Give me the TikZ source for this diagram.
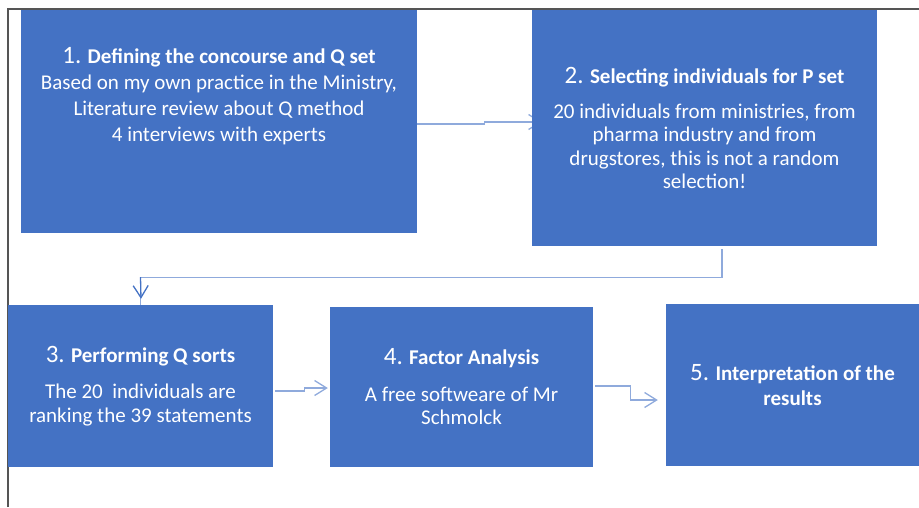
\documentclass[tikz,border=0pt]{standalone}
\usepackage{fontspec}
\setmainfont{Carlito}
\usetikzlibrary{arrows.meta,positioning}
\definecolor{qblue}{RGB}{68,114,196}
\definecolor{qline}{RGB}{143,170,220}
\definecolor{qframe}{RGB}{85,85,85}
\pgfdeclarelayer{bg}
\pgfsetlayers{bg,main}
\newcommand{\stepno}[1]{{\fontsize{25}{30}\selectfont #1}}
\tikzset{
  stepbox/.style = {rectangle, fill=qblue, inner sep=0pt, text=white,
    align=center, font=\fontsize{21}{23.5}\selectfont},% etape du protocole
  steptext/.style = {inner sep=0pt, text=white, align=center,
    font=\fontsize{21}{26}\selectfont},% texte libre dans une etape
  conn/.style = {draw=qline, line width=1.3pt,
    -{Straight Barb[length=12pt,width=15pt]}},% fleche claire
  conn_d/.style = {conn, draw=qblue}% fleche foncee
}
\begin{document}
\begin{tikzpicture}[x=1pt,y=-1pt]
\useasboundingbox (0,0) rectangle (919,507);
\draw[qframe, line width=1.6pt] (8,507) -- (8,9) -- (919,9);
% premiere ligne
\node [stepbox, minimum width=396pt, minimum height=223pt] (b1) at (219,121.5) {};
\node [steptext, below=37pt of b1.north] (t1)
  {\stepno{1.} \textbf{Defining the concourse and Q set}\\
   Based on my own practice in the Ministry,\\
   Literature review about Q method\\
   4 interviews with experts};
\node [stepbox, minimum width=345pt, minimum height=236pt] (b2) at (704.5,128)
  {\stepno{2.} \textbf{Selecting individuals for P set}\\[11.5pt]
   20 individuals from ministries, from\\
   pharma industry and from\\
   drugstores, this is not a random\\
   selection!};
% deuxieme ligne
\node [stepbox, minimum width=265pt, minimum height=162pt] (b3) at (140.5,386)
  {\stepno{3.} \textbf{Performing Q sorts}\\[13pt]
   The 20\ \ individuals are\\
   ranking the 39 statements};
\node [stepbox, minimum width=263pt, minimum height=160pt] (b4) at (461.5,387)
  {\stepno{4.} \textbf{Factor Analysis}\\[13pt]
   A free softweare of Mr\\
   Schmolck};
\node [stepbox, minimum width=253pt, minimum height=162pt] (b5) at (792.5,385)
  {\stepno{5.} \textbf{Interpretation of the}\\[1pt]
   \textbf{results}};
\begin{pgfonlayer}{bg}
\draw[conn] ([yshift=-2.5pt]b1.east) -- ++(67,0) -- ++(0,-2)
  -- ([xshift=10pt,yshift=6pt]b2.west);
\draw[qline, line width=1.3pt] ([xshift=17.5pt,yshift=-3pt]b2.south) -- ++(0,28)
  -| coordinate[pos=0.5] (c23) (b3.north);
\draw[conn_d] (c23) -- ([xshift=0.5pt,yshift=6pt]b3.north);
\draw[conn] ([xshift=2pt,yshift=-5pt]b3.east) -- ++(29,0) -- ++(0,-3)
  -- ([xshift=-2pt,yshift=-1pt]b4.west);
\draw[conn] ([xshift=2pt,yshift=1pt]b4.east) -- ++(35,0) -- ++(0,14)
  -- ([xshift=-8pt,yshift=-15pt]b5.west);
\end{pgfonlayer}
\end{tikzpicture}
\end{document}
